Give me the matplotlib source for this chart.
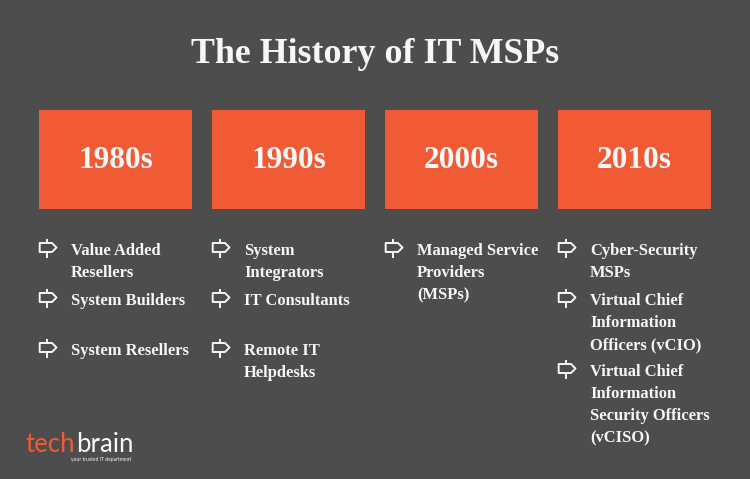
import matplotlib
matplotlib.use("Agg")
import matplotlib.pyplot as plt
from matplotlib.patches import Polygon

title = "The History of IT MSPs"
decades = ["1980s", "1990s", "2000s", "2010s"]
items = [
    ["Value Added\nResellers", "System Builders", "System Resellers"],
    ["System\nIntegrators", "IT Consultants", "Remote IT\nHelpdesks"],
    ["Managed Service\nProviders\n(MSPs)"],
    ["Cyber-Security\nMSPs", "Virtual Chief\nInformation\nOfficers (vCIO)",
     "Virtual Chief\nInformation\nSecurity Officers\n(vCISO)"],
]
# baseline of the first line of each item, in pixels
item_y = [
    [255, 305, 355],
    [255, 305, 355],
    [255],
    [255, 305, 376],
]

BG = "#4d4d4d"
ORANGE = "#f05a35"
WHITE = "#f7f7f7"
SERIF = "Liberation Serif"

box_x = [39, 212, 385, 558]
box_w = 153
line_h = 22

fig = plt.figure(figsize=(7.5, 4.79), dpi=100, facecolor=BG)
ax = fig.add_axes([0, 0, 1, 1])
ax.set_xlim(0, 750)
ax.set_ylim(479, 0)
ax.axis("off")


def signpost(x, y):
    # little signpost icon, x is the left edge and y the text baseline
    ax.plot([x + 8, x + 8], [y - 16, y + 3], color=WHITE, lw=1.4, solid_capstyle="butt")
    pts = [(x + 0.7, y - 12), (x + 13, y - 12), (x + 17.5, y - 7.5), (x + 13, y - 3), (x + 0.7, y - 3)]
    ax.add_patch(Polygon(pts, closed=True, facecolor=BG, edgecolor=WHITE, lw=1.4,
                         joinstyle="round", zorder=3))


ax.text(375, 63, title, color=WHITE, fontsize=25.8, fontweight="bold",
        family=SERIF, ha="center", va="baseline")

ax.bar(box_x, 99, width=box_w, bottom=110, align="edge", color=ORANGE)

for x, decade, rows, ys in zip(box_x, decades, items, item_y):
    ax.text(x + box_w / 2, 168.5, decade, color=WHITE, fontsize=22.5, fontweight="bold",
            family=SERIF, ha="center", va="baseline")
    for row, y in zip(rows, ys):
        signpost(x, y)
        for i, line in enumerate(row.split("\n")):
            ax.text(x + 32, y + i * line_h, line, color=WHITE, fontsize=11.9,
                    fontweight="bold", family=SERIF, ha="left", va="baseline")

# logo
logo = ax.text(26, 452, "tech", color=ORANGE, fontsize=18.5, family="Lato", va="baseline")
fig.canvas.draw()
end = logo.get_window_extent().x1
ax.text(end + 1, 452, "brain", color=WHITE, fontsize=18.5, family="Lato", va="baseline")
ax.text(131, 460.5, "your trusted IT department", color=WHITE, fontsize=3.6,
        family="Lato", ha="right", va="baseline")

fig.savefig("out.png", dpi=100, facecolor=BG)
